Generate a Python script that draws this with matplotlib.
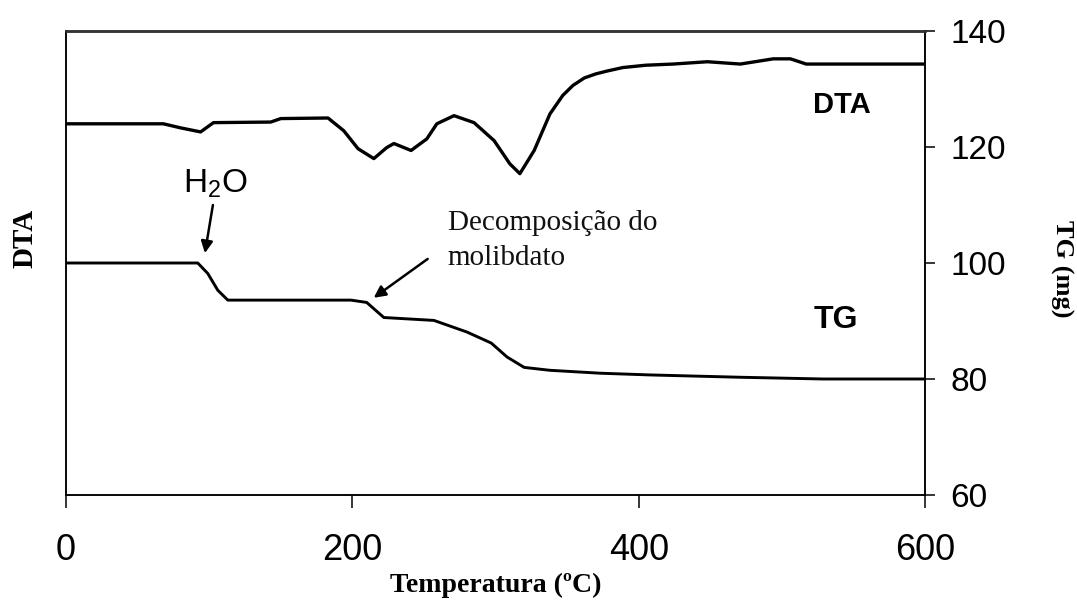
"""DTA / TG curves of the molybdate precursor, heated 0-600 degC."""
import matplotlib
matplotlib.use("Agg")
import matplotlib.pyplot as plt

plt.rcParams["mathtext.fontset"] = "custom"
plt.rcParams["mathtext.rm"] = "Liberation Sans"

SANS = "Liberation Sans"
SERIF = "Liberation Serif"

# DTA trace (arbitrary units, drawn on the same span as TG)
dta_temp = [0, 68, 80, 94, 103, 143, 150, 183, 194, 204, 215, 224, 229, 241,
            252, 259, 271, 285, 299, 310, 317, 327, 338, 347, 354, 362, 370,
            378, 389, 405, 424, 448, 471, 494, 506, 517, 541, 600]
dta_signal = [124.0, 124.0, 123.3, 122.6, 124.2, 124.3, 124.9, 125.0, 122.8,
              119.7, 118.0, 119.9, 120.6, 119.4, 121.4, 124.0, 125.4, 124.2,
              121.1, 117.1, 115.4, 119.4, 125.7, 128.9, 130.6, 131.9, 132.6,
              133.1, 133.7, 134.1, 134.3, 134.7, 134.3, 135.2, 135.2, 134.3,
              134.3, 134.3]

# TG trace (mg)
tg_temp = [0, 92, 99, 106, 113, 199, 210, 222, 257, 280, 297, 308, 320, 338,
           373, 408, 471, 529, 600]
tg_mass = [100.0, 100.0, 98.2, 95.3, 93.6, 93.6, 93.2, 90.6, 90.1, 88.1, 86.2,
           83.8, 82.0, 81.5, 81.0, 80.7, 80.3, 80.0, 80.0]

x_ticks = [0, 200, 400, 600]
tg_ticks = [60, 80, 100, 120, 140]

fig = plt.figure(figsize=(10.77, 6.03), dpi=100)
ax = fig.add_axes([0.0613, 0.1791, 0.7976, 0.7695])
ax2 = ax.twinx()

ax.plot(dta_temp, dta_signal, color="black", lw=2.4, solid_joinstyle="round")
ax2.plot(tg_temp, tg_mass, color="black", lw=2.1, solid_joinstyle="round")

ax.set_xlim(0, 600)
ax.set_ylim(60, 140)
ax2.set_ylim(60, 140)

ax.set_xticks(x_ticks)
ax.set_xticklabels([str(t) for t in x_ticks], fontfamily=SANS, fontsize=26)
ax.tick_params(axis="x", direction="out", length=9, width=1.1, pad=18)
ax.set_yticks([])

ax2.set_yticks(tg_ticks)
ax2.set_yticklabels([str(t) for t in tg_ticks], fontfamily=SANS, fontsize=24)
ax2.tick_params(axis="y", direction="out", length=7, width=1.1, pad=11)

for a in (ax, ax2):
    for side in ("left", "right", "bottom"):
        a.spines[side].set_linewidth(1.1)
    a.spines["top"].set_linewidth(1.8)
    a.spines["top"].set_color("#333333")

ax.set_xlabel("Temperatura (ºC)", fontfamily=SERIF, fontweight="bold",
              fontsize=20, labelpad=4)
ax.set_ylabel("DTA", fontfamily=SERIF, fontweight="bold", fontsize=21,
              va="center", ha="center")
ax.yaxis.set_label_coords(-0.048, 0.554)
ax2.set_ylabel("TG (mg)", fontfamily=SERIF, fontweight="bold", fontsize=19,
               rotation=270, va="center", ha="center")
ax2.yaxis.set_label_coords(1.159, 0.487)

# curve names
ax.text(542, 127.2, "DTA", fontfamily=SANS, fontweight="bold", fontsize=21,
        ha="center", va="center")
ax.text(538, 90.2, "TG", fontfamily=SANS, fontweight="bold", fontsize=23,
        ha="center", va="center")

# event markers
arrow = dict(arrowstyle="-|>,head_length=0.7,head_width=0.35", color="black",
             lw=1.8, shrinkA=0, shrinkB=0)
ax.text(81.6, 112.2, r"H$_\mathrm{2}$O", fontfamily=SANS, fontsize=24,
        ha="left", va="baseline")
ax.annotate("", xy=(97.0, 101.7), xytext=(102.6, 110.0), arrowprops=arrow)

ax.text(266.5, 105.7, "Decomposição do", fontfamily=SERIF, fontsize=21,
        ha="left", va="baseline", color="#111111")
ax.text(266.5, 99.7, "molibdato", fontfamily=SERIF, fontsize=21,
        ha="left", va="baseline", color="#111111")
ax.annotate("", xy=(214.9, 94.0), xytext=(252.6, 100.7), arrowprops=arrow)

fig.savefig("out.png", dpi=100)
plt.close(fig)
